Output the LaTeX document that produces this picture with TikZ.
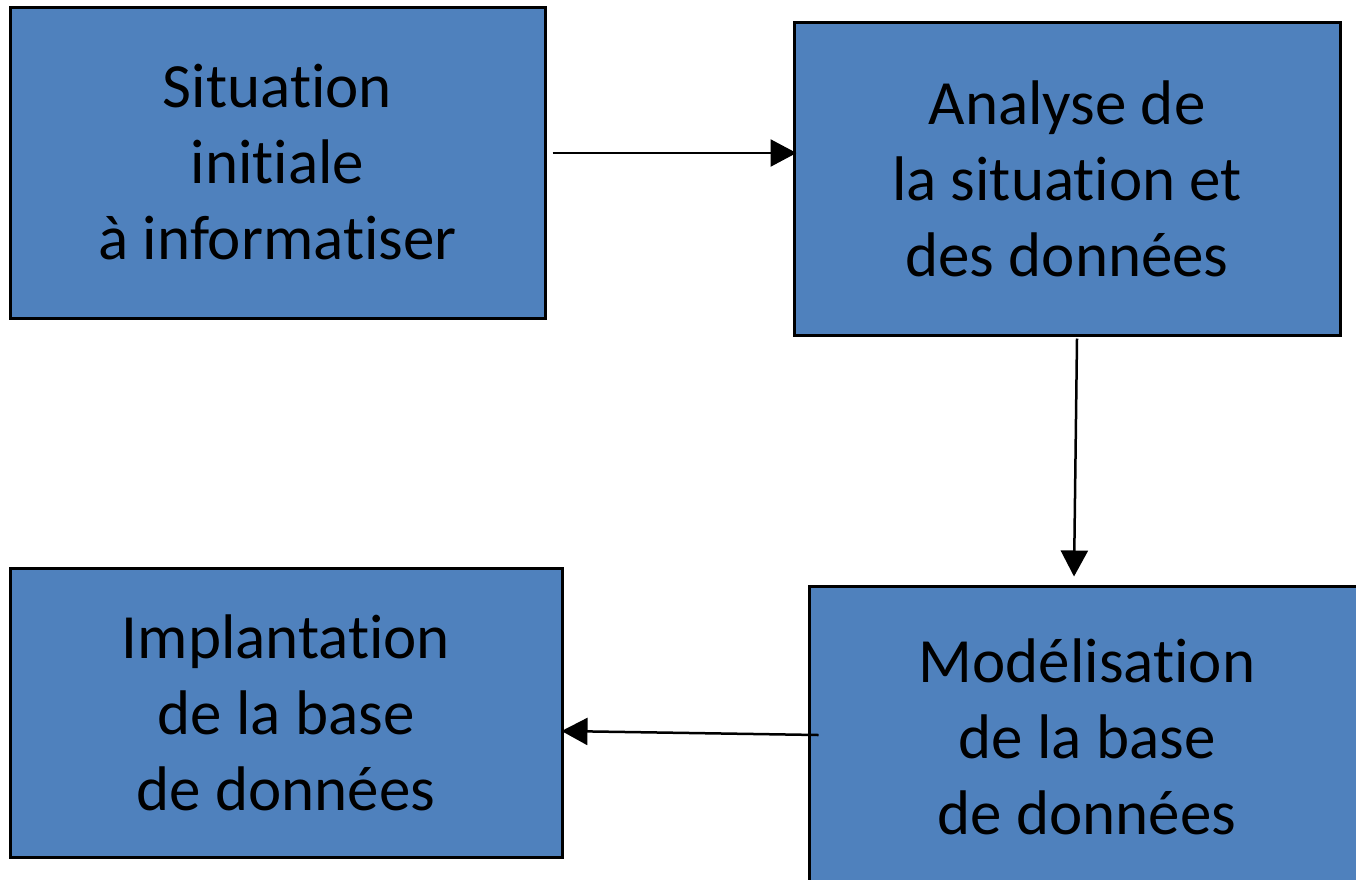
\documentclass[tikz,border=0pt]{standalone}
\usepackage{fontspec}
\setmainfont[Ligatures=NoCommon]{Carlito}
\usetikzlibrary{arrows.meta}
\definecolor{boxblue}{HTML}{4F81BD}
\tikzset{
  stepbox/.style={draw=black, line width=3pt, fill=boxblue, inner sep=0pt,
    align=center, font=\fontsize{63}{76}\selectfont},
  arr/.style={line width=2.5pt, -{Triangle[length=26pt,width=27pt]}}
}
\begin{document}
\begin{tikzpicture}[x=1pt,y=-1pt]
\useasboundingbox (0,0) rectangle (1356,879);
\clip (0,0) rectangle (1356,879);
\node[stepbox, minimum width=535pt, minimum height=311pt] (b1) at (277.5,162.5) {Situation\\initiale\\à informatiser};
\node[stepbox, minimum width=546pt, minimum height=313pt] (b2) at (1067,178.5) {Analyse de\\la situation et\\des données};
\node[stepbox, minimum width=552pt, minimum height=289pt] (b3) at (286,712.5) {Implantation\\de la base\\de données};
\node[stepbox, minimum width=556pt, minimum height=302pt] (b4) at (1087,737) {Modélisation\\de la base\\de données};
\draw[arr] ([shift={(6,-9.5)}]b1.east) -- ([shift={(4,-25.5)}]b2.west);
\draw[arr] ([shift={(10,2)}]b2.south) -- ([shift={(-13,-8)}]b4.north);
\draw[arr] ([shift={(11,-2)}]b4.west) -- ([shift={(-2,18.5)}]b3.east);
\end{tikzpicture}
\end{document}
